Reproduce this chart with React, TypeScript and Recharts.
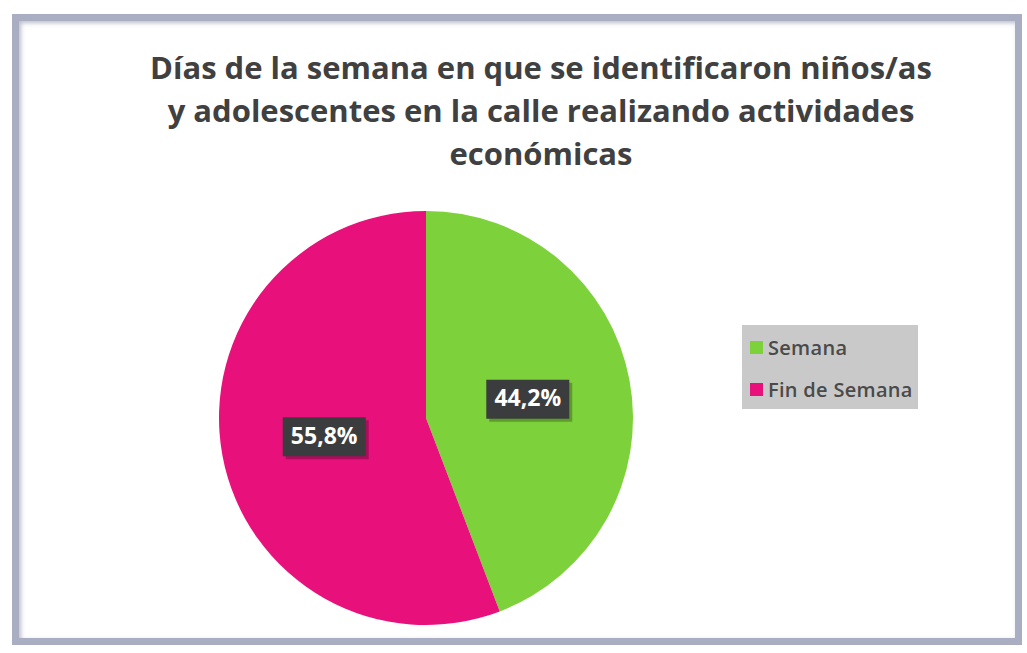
import { Legend, Pie, PieChart, Cell } from "recharts";

const categorias = ["Semana", "Fin de Semana"];
const porcentajes = [44.2, 55.8];
const etiquetas = ["44,2%", "55,8%"];
const colores = ["#7dd13a", "#e8117b"];

const datos = categorias.map((nombre, i) => ({
  nombre,
  valor: porcentajes[i],
  etiqueta: etiquetas[i],
}));

const RAD = Math.PI / 180;

function EtiquetaCaja(props: any) {
  const { cx, cy, midAngle, outerRadius, index } = props;
  const r = outerRadius * 0.5;
  const x = cx + r * Math.cos(-midAngle * RAD);
  const y = cy + r * Math.sin(-midAngle * RAD);
  const w = 83;
  const h = 39;
  return (
    <g>
      <rect x={x - w / 2 + 3} y={y - h / 2 + 3} width={w} height={h} fill="#000" opacity={0.25} />
      <rect x={x - w / 2} y={y - h / 2} width={w} height={h} fill="#3b3c3e" />
      <text
        x={x}
        y={y + 1}
        textAnchor="middle"
        dominantBaseline="middle"
        fill="#ffffff"
        fontSize={23}
        fontWeight={700}
        fontFamily="'Open Sans', sans-serif"
      >
        {datos[index].etiqueta}
      </text>
    </g>
  );
}

function LeyendaCaja() {
  // same order as the source chart
  return (
    <div
      style={{
        background: "#c9c9c9",
        width: 176,
        height: 84,
        boxSizing: "border-box",
        padding: "7px 0 0 8px",
        fontFamily: "'Open Sans', sans-serif",
        fontSize: 20,
        fontWeight: 600,
        letterSpacing: 0.3,
        color: "#4a4a4a",
      }}
    >
      {categorias.map((c, i) => (
        <div key={c} style={{ display: "flex", alignItems: "center", height: 30, marginBottom: 12 }}>
          <span style={{ width: 13, height: 13, background: colores[i], marginRight: 5 }} />
          {c}
        </div>
      ))}
    </div>
  );
}

export default function App() {
  return (
    <div style={{ position: "fixed", left: 0, top: 0, width: 1027, height: 653, background: "#ffffff" }}>
      <div
        style={{
          position: "absolute",
          left: 12,
          top: 14,
          width: 1010,
          height: 631,
          boxSizing: "border-box",
          border: "7px solid #a9aec2",
          boxShadow: "inset 2px 2px 4px rgba(120,125,150,0.5)",
        }}
      />
      <div
        style={{
          position: "absolute",
          left: 0,
          top: 46,
          width: 1082,
          textAlign: "center",
          fontFamily: "'Open Sans', sans-serif",
          fontWeight: 700,
          fontSize: 31,
          lineHeight: "43px",
          color: "#404040",
        }}
      >
        Días de la semana en que se identificaron niños/as
        <br />
        y adolescentes en la calle realizando actividades
        <br />
        económicas
      </div>
      <div style={{ position: "absolute", left: 0, top: 0 }}>
        <PieChart width={1027} height={653} margin={{ top: 0, right: 0, bottom: 0, left: 0 }}>
          <Pie
            data={datos}
            dataKey="valor"
            nameKey="nombre"
            cx={426}
            cy={418}
            outerRadius={207}
            startAngle={90}
            endAngle={-270}
            stroke="none"
            labelLine={false}
            label={EtiquetaCaja}
            isAnimationActive={false}
          >
            {datos.map((d, i) => (
              <Cell key={d.nombre} fill={colores[i]} />
            ))}
          </Pie>
          <Legend
            layout="vertical"
            content={<LeyendaCaja />}
            wrapperStyle={{ left: 742, top: 325, width: 176 }}
          />
        </PieChart>
      </div>
    </div>
  );
}
